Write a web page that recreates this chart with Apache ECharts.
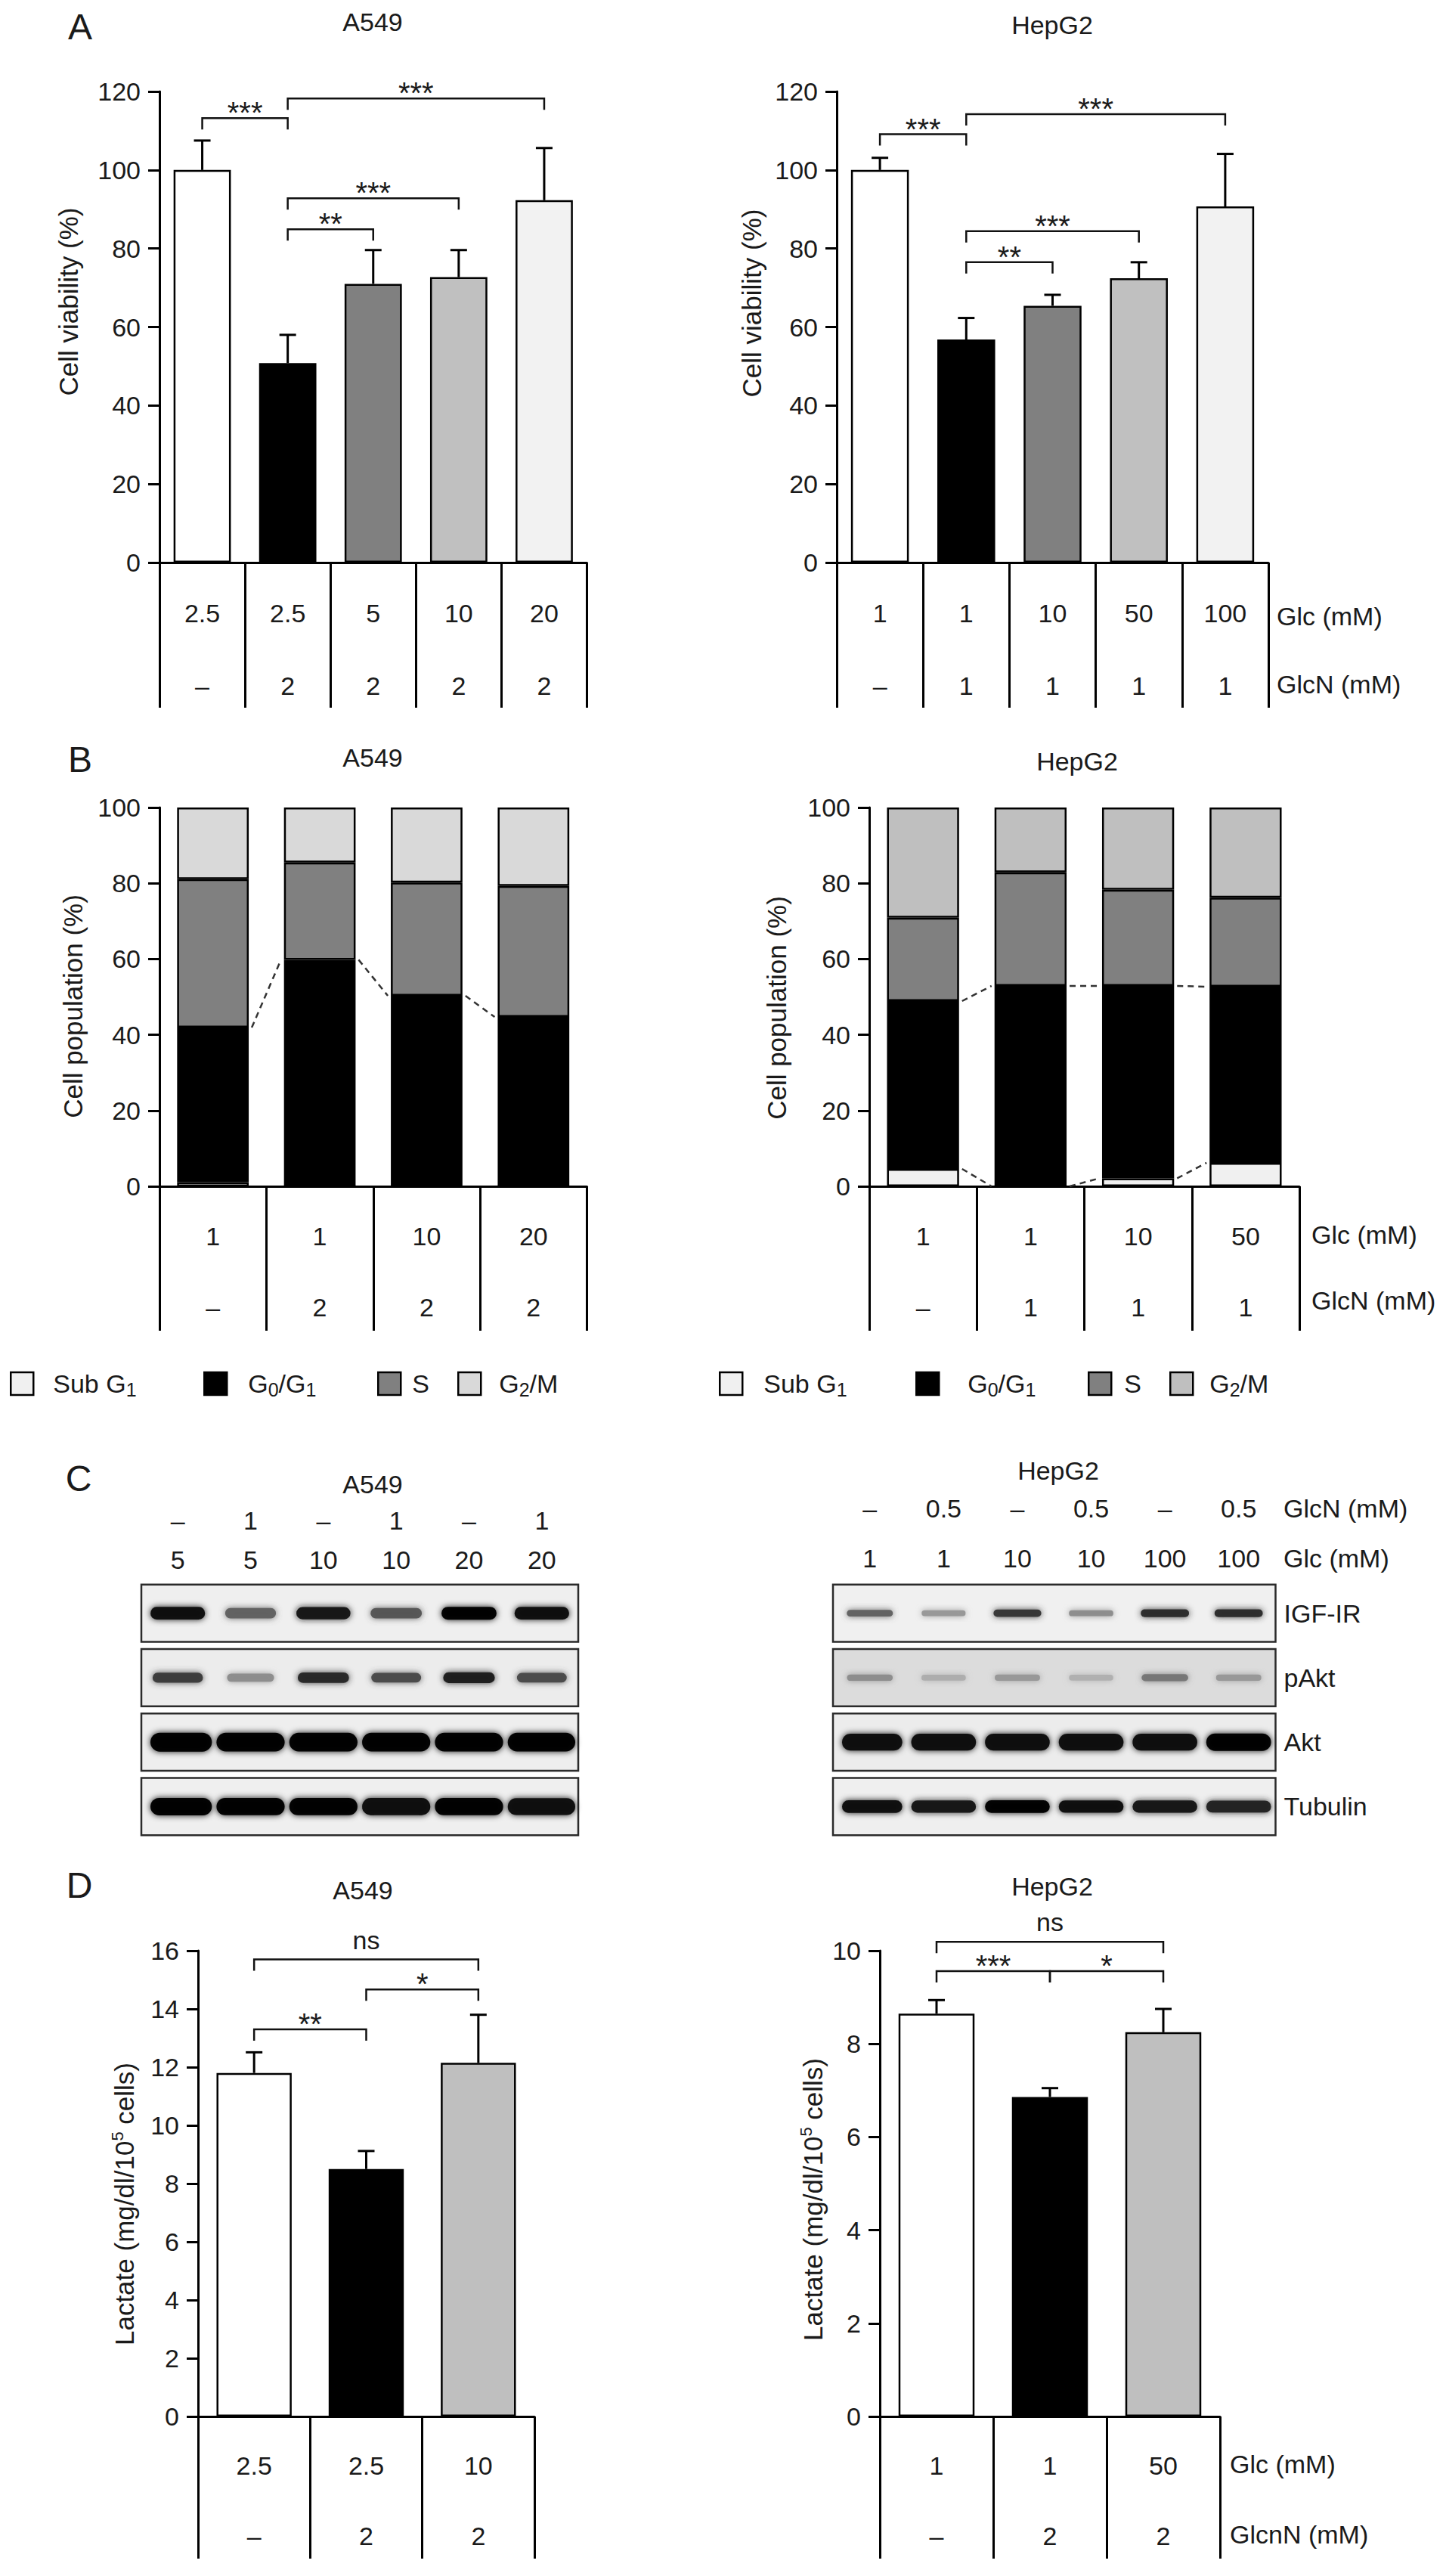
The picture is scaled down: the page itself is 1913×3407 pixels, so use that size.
<!DOCTYPE html>
<html><head><meta charset="utf-8">
<script src="https://cdn.jsdelivr.net/npm/echarts@6/dist/echarts.min.js"></script>
<style>html,body{margin:0;padding:0;background:#fff}#c{width:1913px;height:3407px}</style>
</head><body><div id="c"></div>
<script>
// ================= DATA =================
// Panel A – cell viability (%)
const A_A549_glc = ['2.5', '2.5', '5', '10', '20'];
const A_A549_glcn = ['–', '2', '2', '2', '2'];
const A_A549_viability = [100, 50.8, 71.0, 72.7, 92.3];
const A_A549_err = [7.5, 7.2, 8.6, 6.9, 13.3];
const A_A549_sig = [[0, 1, 113.2, '***'], [1, 4, 118.2, '***'], [1, 3, 92.8, '***'], [1, 2, 84.9, '**']];

const A_HepG2_glc = ['1', '1', '10', '50', '100'];
const A_HepG2_glcn = ['–', '1', '1', '1', '1'];
const A_HepG2_viability = [100, 56.8, 65.4, 72.4, 90.7];
const A_HepG2_err = [3.1, 5.5, 2.8, 4.1, 13.4];
const A_HepG2_sig = [[0, 1, 109.1, '***'], [1, 4, 114.2, '***'], [1, 3, 84.4, '***'], [1, 2, 76.5, '**']];

// Panel B – cell cycle (%)
const phases = ['Sub G1', 'G0/G1', 'S', 'G2/M'];
const B_A549_glc = ['1', '1', '10', '20'];
const B_A549_glcn = ['–', '2', '2', '2'];
const B_A549_subG1 = [1.1, 0, 0.6, 0];
const B_A549_G0G1 = [40.8, 59.8, 49.7, 44.7];
const B_A549_S = [39.2, 25.7, 29.9, 34.6];
const B_A549_G2M = [18.9, 14.5, 19.8, 20.7];

const B_HepG2_glc = ['1', '1', '10', '50'];
const B_HepG2_glcn = ['–', '1', '1', '1'];
const B_HepG2_subG1 = [4.6, 0, 2.1, 6.2];
const B_HepG2_G0G1 = [44.3, 52.9, 50.8, 46.5];
const B_HepG2_S = [22.0, 30.0, 25.4, 23.5];
const B_HepG2_G2M = [29.1, 17.1, 21.7, 23.8];

// Panel C – western blots (relative band intensity 0..1)
const C_proteins = ['IGF-IR', 'pAkt', 'Akt', 'Tubulin'];
const C_A549_glcn = ['–', '1', '–', '1', '–', '1'];
const C_A549_glc = ['5', '5', '10', '10', '20', '20'];
const C_A549_IGF1R = [0.95, 0.55, 0.9, 0.6, 1.0, 0.95];
const C_A549_pAkt = [0.72, 0.35, 0.82, 0.66, 0.86, 0.66];
const C_A549_Akt = [1.0, 0.97, 0.97, 0.97, 0.97, 0.97];
const C_A549_Tubulin = [1.0, 0.97, 0.97, 0.96, 0.97, 0.95];

const C_HepG2_glcn = ['–', '0.5', '–', '0.5', '–', '0.5'];
const C_HepG2_glc = ['1', '1', '10', '10', '100', '100'];
const C_HepG2_IGF1R = [0.55, 0.3, 0.75, 0.35, 0.8, 0.8];
const C_HepG2_pAkt = [0.35, 0.2, 0.3, 0.18, 0.45, 0.3];
const C_HepG2_Akt = [0.95, 0.95, 0.95, 0.95, 0.95, 1.0];
const C_HepG2_Tubulin = [0.95, 0.9, 0.97, 0.92, 0.9, 0.85];

// Panel D – lactate (mg/dl/10^5 cells)
const D_A549_glc = ['2.5', '2.5', '10'];
const D_A549_glcn = ['–', '2', '2'];
const D_A549_lactate = [11.8, 8.5, 12.15];
const D_A549_err = [0.71, 0.62, 1.65];
const D_A549_sig = [[0, 1, 13.3, '**'], [1, 2, 14.67, '*'], [0, 2, 15.7, 'ns']];

const D_HepG2_glc = ['1', '1', '50'];
const D_HepG2_glcn = ['–', '2', '2'];
const D_HepG2_lactate = [8.65, 6.86, 8.25];
const D_HepG2_err = [0.29, 0.19, 0.5];
const D_HepG2_sig = [[0, 1, 9.56, '***'], [1, 2, 9.56, '*'], [0, 2, 10.19, 'ns']];

// ================= BUILD =================
const FONT = '"Liberation Sans", Arial, Helvetica, sans-serif';
const INK = '#1a1a1a';
const grid = [], xAxis = [], yAxis = [], series = [], graphic = [], legend = [];

function addGrid(left, top, width, height) {
  grid.push({left, top, width, height, outerBoundsMode: 'none'});
  return grid.length - 1;
}
function tableXAxis(gi, glc, glcn, tickLen, lineH, margin) {
  xAxis.push({
    gridIndex: gi, type: 'category', data: glc.map((_, i) => 'c' + i),
    axisLine: {show: true, lineStyle: {color: '#000', width: 3}},
    axisTick: {show: true, length: tickLen, lineStyle: {color: '#000', width: 3}},
    axisLabel: {show: true, interval: 0, margin, lineHeight: lineH, fontSize: 34, fontFamily: FONT, color: INK,
      formatter: (v, i) => glc[i] + '\n' + glcn[i]},
    splitLine: {show: false}
  });
  return xAxis.length - 1;
}
function valueYAxis(gi, max, interval) {
  yAxis.push({
    gridIndex: gi, type: 'value', min: 0, max, interval,
    axisLine: {show: true, lineStyle: {color: '#000', width: 3}},
    axisTick: {show: true, length: 15, lineStyle: {color: '#000', width: 3}},
    axisLabel: {margin: 25, fontSize: 34, fontFamily: FONT, color: INK},
    splitLine: {show: false}
  });
  return yAxis.length - 1;
}
function barSeries(xi, yi, values, colors) {
  series.push({
    type: 'bar', xAxisIndex: xi, yAxisIndex: yi, barWidth: '67%', silent: true,
    itemStyle: {borderColor: '#000', borderWidth: 2.5},
    data: values.map((v, i) => ({value: v, itemStyle: {color: colors[i]}}))
  });
}
function errorSeries(xi, yi, means, errs) {
  series.push({
    type: 'custom', xAxisIndex: xi, yAxisIndex: yi, z: 5, clip: false, silent: true,
    encode: {x: 0, y: 1},
    data: means.map((m, i) => [i, m, errs[i]]),
    renderItem: (params, api) => {
      const i = api.value(0), m = api.value(1), e = api.value(2);
      const p0 = api.coord([i, m]), p1 = api.coord([i, m + e]);
      return {type: 'group', children: [
        {type: 'line', shape: {x1: p0[0], y1: p0[1], x2: p1[0], y2: p1[1]}, style: {stroke: '#000', lineWidth: 3}},
        {type: 'line', shape: {x1: p1[0] - 11, y1: p1[1], x2: p1[0] + 11, y2: p1[1]}, style: {stroke: '#000', lineWidth: 3}}
      ]};
    }
  });
}
function sigSeries(xi, yi, sig) {
  series.push({
    type: 'custom', xAxisIndex: xi, yAxisIndex: yi, z: 6, clip: false, silent: true,
    encode: {x: 0, y: 2},
    data: sig.map(s => [s[0], s[1], s[2]]),
    renderItem: (params, api) => {
      const a = api.value(0), b = api.value(1), y = api.value(2);
      const pa = api.coord([a, y]), pb = api.coord([b, y]);
      const lab = sig[params.dataIndex][3];
      const isNs = lab === 'ns';
      return {type: 'group', children: [
        {type: 'polyline', shape: {points: [[pa[0], pa[1] + 15], [pa[0], pa[1]], [pb[0], pb[1]], [pb[0], pb[1] + 15]]},
          style: {stroke: '#111', lineWidth: 2.5, fill: null}},
        {type: 'text', x: (pa[0] + pb[0]) / 2, y: pa[1] - (isNs ? 26 : 7),
          style: {text: lab, fontSize: isNs ? 34 : 40, fontFamily: FONT, fill: INK, align: 'center', verticalAlign: 'middle'}}
      ]};
    }
  });
}
function text(str, x, y, size, align, extra, rot) {
  graphic.push({type: 'text', x, y, rotation: rot || 0, silent: true,
    style: Object.assign({text: str, fontSize: size, fontFamily: FONT, fill: INK, align: align || 'center', verticalAlign: 'middle'}, extra || {})});
}

// ---- Panel A ----
const A_colors = ['#ffffff', '#000000', '#808080', '#c0c0c0', '#f2f2f2'];
let g = addGrid(211, 121, 565.5, 623);
let xi = tableXAxis(g, A_A549_glc, A_A549_glcn, 192, 96, 19);
let yi = valueYAxis(g, 120, 20);
barSeries(xi, yi, A_A549_viability, A_colors);
errorSeries(xi, yi, A_A549_viability, A_A549_err);
sigSeries(xi, yi, A_A549_sig);

g = addGrid(1107, 121, 571, 623);
xi = tableXAxis(g, A_HepG2_glc, A_HepG2_glcn, 192, 96, 19);
yi = valueYAxis(g, 120, 20);
barSeries(xi, yi, A_HepG2_viability, A_colors);
errorSeries(xi, yi, A_HepG2_viability, A_HepG2_err);
sigSeries(xi, yi, A_HepG2_sig);

// ---- Panel B ----
function cycleChart(left, width, glc, glcn, parts, colors, connectLevels) {
  const gi = addGrid(left, 1068, width, 501);
  const x = tableXAxis(gi, glc, glcn, 191, 94, 19);
  const y = valueYAxis(gi, 100, 20);
  parts.forEach((arr, k) => series.push({
    type: 'bar', name: phases[k], stack: 'cycle' + gi, xAxisIndex: x, yAxisIndex: y, barWidth: '67%', silent: true,
    itemStyle: {color: colors[k], borderColor: '#000', borderWidth: 2.5}, data: arr
  }));
  const segs = [];
  connectLevels.forEach(L => { for (let i = 0; i < L.length - 1; i++) segs.push([i, L[i], L[i + 1]]); });
  series.push({
    type: 'custom', xAxisIndex: x, yAxisIndex: y, z: 4, clip: false, silent: true, encode: {x: 0, y: 1},
    data: segs,
    renderItem: (params, api) => {
      const i = api.value(0), yl = api.value(1), yr = api.value(2);
      const p1 = api.coord([i, yl]), p2 = api.coord([i + 1, yr]);
      const half = api.size([1, 0])[0] * 0.67 / 2;
      return {type: 'line', shape: {x1: p1[0] + half + 4, y1: p1[1], x2: p2[0] - half - 4, y2: p2[1]},
        style: {stroke: '#333', lineWidth: 2.5, lineDash: [8, 6]}};
    }
  });
}
const cum = (a, b) => a.map((v, i) => v + b[i]);
cycleChart(211, 565.5, B_A549_glc, B_A549_glcn, [B_A549_subG1, B_A549_G0G1, B_A549_S, B_A549_G2M],
  ['#f0f0f0', '#000000', '#808080', '#d9d9d9'], [cum(B_A549_subG1, B_A549_G0G1)]);
cycleChart(1150, 569, B_HepG2_glc, B_HepG2_glcn, [B_HepG2_subG1, B_HepG2_G0G1, B_HepG2_S, B_HepG2_G2M],
  ['#f0f0f0', '#000000', '#808080', '#bfbfbf'], [B_HepG2_subG1, cum(B_HepG2_subG1, B_HepG2_G0G1)]);

// legends
function legendItem(name, x, color, padW) {
  const fm = {
    'Sub G1': '{p| }{t|Sub G}{s|1}',
    'G0/G1': '{p| }{t|G}{s|0}{t|/G}{s|1}',
    'S': '{p| }{t|S}',
    'G2/M': '{p| }{t|G}{s|2}{t|/M}'
  };
  legend.push({
    left: x, top: 1813, itemWidth: 30, itemHeight: 30, selectedMode: false, padding: 0,
    data: [{name, icon: 'rect', itemStyle: {color, borderColor: '#000', borderWidth: 2.5}}],
    formatter: n => fm[n],
    textStyle: {rich: {
      p: {width: padW, fontSize: 34},
      t: {fontSize: 34, fontFamily: FONT, color: INK, lineHeight: 40},
      s: {fontSize: 25, fontFamily: FONT, color: INK, lineHeight: 22, verticalAlign: 'bottom'}
    }}
  });
}
legendItem('Sub G1', 13, '#f0f0f0', 21);
legendItem('G0/G1', 269, '#000000', 23);
legendItem('S', 499, '#808080', 10);
legendItem('G2/M', 605, '#d9d9d9', 19);
legendItem('Sub G1', 951, '#f0f0f0', 23);
legendItem('G0/G1', 1211, '#000000', 33);
legendItem('S', 1439, '#808080', 12);
legendItem('G2/M', 1547, '#bfbfbf', 17);

// ---- Panel C (blots) ----
const blotStyle = {
  A549: {thick: [17, 15, 25, 23], wf: [0.86, 0.83, 1.04, 1.04], cont: [false, false, true, true],
    bg: ['#efefef', '#ececec', '#eeeeee', '#efefef']},
  HepG2: {thick: [11, 12, 23, 17], wf: [0.78, 0.8, 0.98, 0.98], cont: [false, false, true, true],
    bg: ['#f0f0f0', '#dcdcdc', '#ececec', '#efefef']}
};
function blot(left, width, glcn, glc, rows, st, showNames, lh, margin) {
  const gi = addGrid(left, 2091, width, 341);
  xAxis.push({gridIndex: gi, type: 'category', position: 'top', data: glc.map((_, i) => 'lane' + i),
    axisLine: {show: false}, axisTick: {show: false}, splitLine: {show: false},
    axisLabel: {interval: 0, margin, formatter: (v, i) => '{a|' + glcn[i] + '}\n{a|' + glc[i] + '}',
      rich: {a: {fontSize: 34, fontFamily: FONT, color: INK, lineHeight: lh}}}});
  const x = xAxis.length - 1;
  yAxis.push({gridIndex: gi, type: 'category', inverse: true, position: 'right', data: C_proteins,
    axisLine: {show: false}, axisTick: {show: false}, splitLine: {show: false},
    axisLabel: {show: showNames, margin: 11, fontSize: 34, fontFamily: FONT, color: INK}});
  const y = yAxis.length - 1;
  series.push({type: 'custom', xAxisIndex: x, yAxisIndex: y, z: 2, silent: true, encode: {x: 0, y: 1},
    data: C_proteins.map((p, r) => [0, r]),
    renderItem: (params, api) => {
      const r = api.value(1);
      const c = api.coord([0, r]);
      const h = api.size([0, 1])[1] * 0.89;
      const cs = params.coordSys;
      return {type: 'rect', shape: {x: cs.x, y: c[1] - h / 2, width: cs.width, height: h},
        style: {fill: st.bg[r], stroke: '#2b2b2b', lineWidth: 2.5}};
    }});
  const bands = [];
  rows.forEach((arr, r) => arr.forEach((v, l) => bands.push([l, r, v])));
  series.push({type: 'custom', xAxisIndex: x, yAxisIndex: y, z: 3, silent: true, encode: {x: 0, y: 1},
    data: bands,
    renderItem: (params, api) => {
      const l = api.value(0), r = api.value(1), v = api.value(2);
      const c = api.coord([l, r]);
      const lw = api.size([1, 0])[0];
      const th = st.thick[r] * (0.55 + 0.45 * v);
      const w = lw * st.wf[r] * (st.cont[r] ? 1 : (0.85 + 0.15 * v));
      const cs = params.coordSys;
      let x0 = c[0] - w / 2 + 5, x1 = c[0] + w / 2 - 5;
      x0 = Math.max(x0, cs.x + 12); x1 = Math.min(x1, cs.x + cs.width - 4);
      const gv = Math.round(215 * (1 - v));
      const col = a => 'rgba(' + gv + ',' + gv + ',' + gv + ',' + a + ')';
      return {type: 'rect', shape: {x: x0, y: c[1] - th / 2, width: x1 - x0, height: th, r: th / 2},
        style: {fill: col(0.97), shadowBlur: 9, shadowColor: col(0.95)}};
    }});
}
blot(187, 578, C_A549_glcn, C_A549_glc, [C_A549_IGF1R, C_A549_pAkt, C_A549_Akt, C_A549_Tubulin], blotStyle.A549, false, 52, 2);
blot(1102, 585.5, C_HepG2_glcn, C_HepG2_glc, [C_HepG2_IGF1R, C_HepG2_pAkt, C_HepG2_Akt, C_HepG2_Tubulin], blotStyle.HepG2, true, 66, -3);

// ---- Panel D ----
const D_colors = ['#ffffff', '#000000', '#bfbfbf'];
g = addGrid(262, 2580, 445, 616);
xi = tableXAxis(g, D_A549_glc, D_A549_glcn, 188, 93, 18.5);
yi = valueYAxis(g, 16, 2);
barSeries(xi, yi, D_A549_lactate, D_colors);
errorSeries(xi, yi, D_A549_lactate, D_A549_err);
sigSeries(xi, yi, D_A549_sig);

g = addGrid(1164, 2580, 450, 616);
xi = tableXAxis(g, D_HepG2_glc, D_HepG2_glcn, 188, 93, 18.5);
yi = valueYAxis(g, 10, 2);
barSeries(xi, yi, D_HepG2_lactate, D_colors);
errorSeries(xi, yi, D_HepG2_lactate, D_HepG2_err);
sigSeries(xi, yi, D_HepG2_sig);

// ---- Text labels ----
const ROT = Math.PI / 2;
text('Cell viability (%)', 90, 399, 35, 'center', null, ROT);
text('Cell viability (%)', 994, 401, 35, 'center', null, ROT);
text('Cell population (%)', 96, 1331, 35, 'center', null, ROT);
text('Cell population (%)', 1027, 1333, 35, 'center', null, ROT);
const lactRich = {a: {fontSize: 35, fontFamily: FONT, fill: INK, lineHeight: 40},
  s: {fontSize: 22, fontFamily: FONT, fill: INK, lineHeight: 24, verticalAlign: 'top'}};
text('{a|Lactate (mg/dl/10}{s|5}{a| cells)}', 164, 2915, 35, 'center', {rich: lactRich}, ROT);
text('{a|Lactate (mg/dl/10}{s|5}{a| cells)}', 1075, 2909, 35, 'center', {rich: lactRich}, ROT);

text('A', 106, 35, 48); text('A549', 493, 29, 34); text('HepG2', 1392, 33, 34);
text('Glc (mM)', 1689, 815, 34, 'left'); text('GlcN (mM)', 1689, 905, 34, 'left');
text('B', 106, 1004, 48); text('A549', 493, 1002, 34); text('HepG2', 1425, 1007, 34);
text('Glc (mM)', 1735, 1633, 34, 'left'); text('GlcN (mM)', 1735, 1720, 34, 'left');
text('C', 104, 1955, 48); text('A549', 493, 1963, 34); text('HepG2', 1400, 1945, 34);
text('GlcN (mM)', 1698, 1995, 34, 'left'); text('Glc (mM)', 1698, 2061, 34, 'left');
text('D', 105, 2493, 48); text('A549', 480, 2500, 34); text('HepG2', 1392, 2495, 34);
text('Glc (mM)', 1627, 3259, 34, 'left'); text('GlcnN (mM)', 1627, 3352, 34, 'left');

const chart = echarts.init(document.getElementById('c'), null, {renderer: 'svg', width: 1913, height: 3407});
chart.setOption({
  animation: false, backgroundColor: '#ffffff',
  textStyle: {fontFamily: FONT},
  grid, xAxis, yAxis, series, graphic, legend
});
</script></body></html>
